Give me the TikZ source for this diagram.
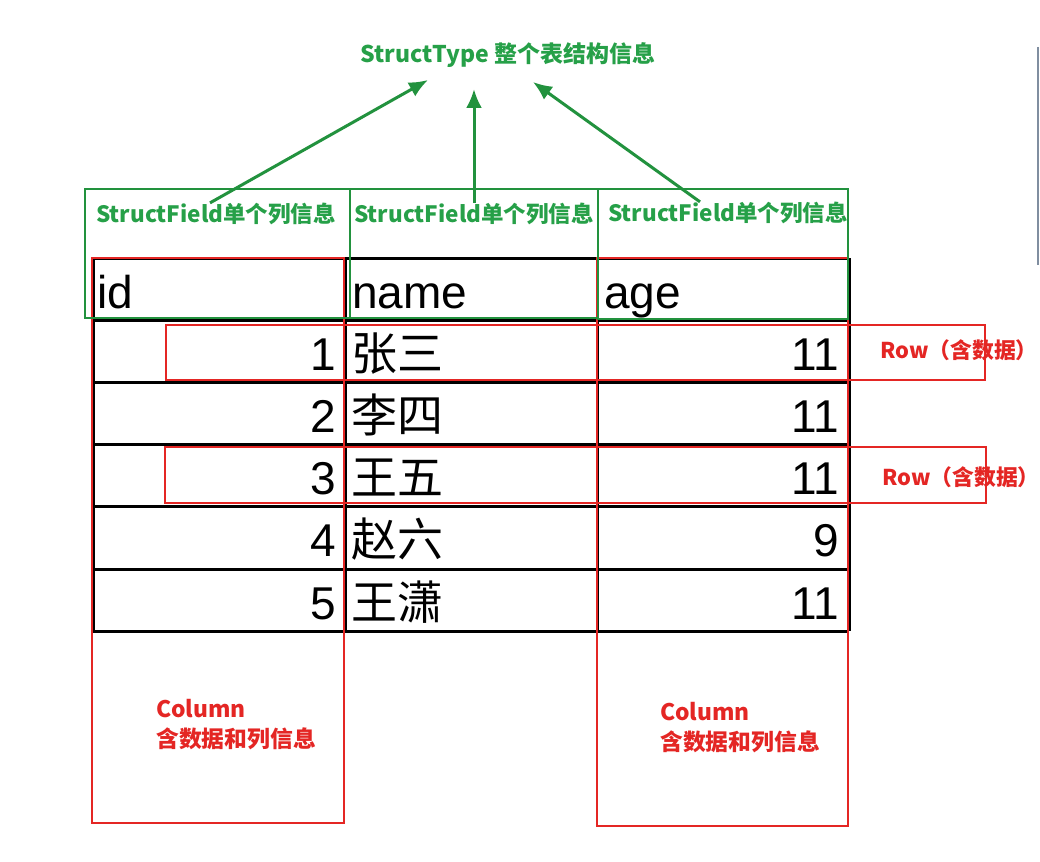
\documentclass[tikz,border=0pt]{standalone}
\usepackage{fontspec}
\setmainfont{Liberation Sans}
\newfontfamily\cjk{Noto Sans CJK SC}
\usetikzlibrary{arrows.meta}
\usepackage{xcolor}

\definecolor{boxred}{RGB}{228,38,36}
\definecolor{boxgreen}{RGB}{34,146,62}
\definecolor{txtgreen}{RGB}{38,160,72}
\definecolor{panelgray}{RGB}{128,142,160}

\tikzset{
  tblline/.style={black, line width=3pt},
  redbox/.style={boxred, line width=2pt},
  greenbox/.style={boxgreen, line width=2.5pt},
  uparrow/.style={boxgreen, line width=3pt, ->},
  celltxt/.style={anchor=base west, inner sep=0pt, font=\fontsize{46}{50}\selectfont},
  numtxt/.style={anchor=base east, inner sep=0pt, font=\fontsize{46}{50}\selectfont},
  nametxt/.style={anchor=base west, inner sep=0pt, font=\cjk\fontsize{46}{50}\selectfont},
  fieldlbl/.style={inner sep=0pt, text=txtgreen, font=\cjk\bfseries\fontsize{22.5}{26}\selectfont},
  rowlbl/.style={anchor=west, inner sep=0pt, text=boxred, font=\cjk\bfseries\fontsize{21.8}{26}\selectfont},
  collbl/.style={anchor=west, inner sep=0pt, align=left, text=boxred, font=\cjk\bfseries\fontsize{22.8}{30}\selectfont}
}

\begin{document}
\begin{tikzpicture}[x=1pt, y=-1pt, >={Latex[length=19pt,width=16pt]}]
  \useasboundingbox[fill=white] (0,0) rectangle (1040,861);

  % panel edge on the right
  \draw[panelgray, line width=2pt] (1038,47) -- (1038,265);

  % the table
  \foreach \r in {0,...,6}
    \draw[tblline] (93,258+62.2*\r) -- (849,258+62.2*\r);
  \foreach \c in {93,345,597,849}
    \draw[tblline] (\c,258) -- (\c,631.2);

  \node[celltxt] (hid) at (97,308) {id};
  \node[celltxt] (hname) at (352,308) {name};
  \node[celltxt] (hage) at (604,308) {age};

  \foreach \i/\nm/\ag in {1/张三/11, 2/李四/11, 3/王五/11, 4/赵六/9, 5/王潇/11}{
    \node[numtxt] (id\i) at (336,308+62.2*\i) {\i};
    \node[nametxt] (nm\i) at (351,308+62.2*\i) {\nm};
    \node[numtxt] (ag\i) at (839,308+62.2*\i) {\ag};
  }

  % columns and rows
  \draw[redbox] (92,258) rectangle (344,823);
  \draw[redbox] (597,258) rectangle (848,826);
  \draw[redbox] (166,325) rectangle (985,380);
  \draw[redbox] (165,447) rectangle (986,503);

  \node[rowlbl] (row1) at (880,350) {Row（含数据）};
  \node[rowlbl] (row3) at (882,477) {Row（含数据）};
  \node[collbl] (col1) at (156,725) {Column\\含数据和列信息};
  \node[collbl] (col3) at (660,728) {Column\\含数据和列信息};

  % fields
  \draw[greenbox] (85,189) rectangle (350,318);
  \draw[greenbox] (350,189) rectangle (598,318);
  \draw[greenbox] (598,189) rectangle (848,319);

  \node[fieldlbl] (f1) at (216,214) {StructField单个列信息};
  \node[fieldlbl] (f2) at (474,214) {StructField单个列信息};
  \node[fieldlbl] (f3) at (728,213) {StructField单个列信息};

  \node[inner sep=0pt, text=txtgreen, font=\cjk\bfseries\fontsize{23}{28}\selectfont] (stype) at (508,55) {StructType 整个表结构信息};

  \coordinate (tipL) at (428,80);
  \coordinate (tipM) at (474,89);
  \coordinate (tipR) at (533,82);
  \draw[uparrow] ([xshift=-6pt]f1.north) -- (tipL);
  \draw[uparrow] (f2.north) -- (tipM);
  \draw[uparrow] ([xshift=-28pt]f3.north) -- (tipR);
\end{tikzpicture}
\end{document}
